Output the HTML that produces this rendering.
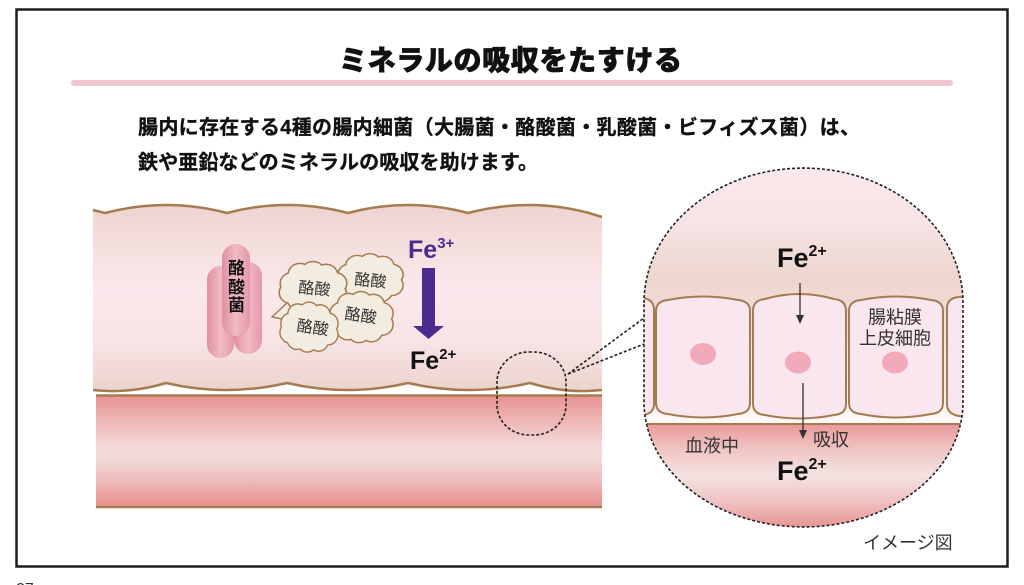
<!DOCTYPE html>
<html><head><meta charset="utf-8"><style>
html,body{margin:0;padding:0;background:#fff;}
svg{display:block;}
</style></head><body>
<svg width="1024" height="585" viewBox="0 0 1024 585" xmlns="http://www.w3.org/2000/svg">
<defs>
  <linearGradient id="ug" x1="0" y1="205" x2="0" y2="392" gradientUnits="userSpaceOnUse">
    <stop offset="0" stop-color="#eed3cf"/>
    <stop offset="0.15" stop-color="#f3dcda"/>
    <stop offset="0.45" stop-color="#fbe8ec"/>
    <stop offset="0.72" stop-color="#f8e4e6"/>
    <stop offset="1" stop-color="#ecd3cc"/>
  </linearGradient>
  <linearGradient id="lg" x1="0" y1="396" x2="0" y2="507" gradientUnits="userSpaceOnUse">
    <stop offset="0" stop-color="#e99391"/>
    <stop offset="0.2" stop-color="#eeb3b1"/>
    <stop offset="0.45" stop-color="#f2d9d8"/>
    <stop offset="0.55" stop-color="#f2dbda"/>
    <stop offset="0.75" stop-color="#efbdbd"/>
    <stop offset="1" stop-color="#e88e8d"/>
  </linearGradient>
  <linearGradient id="lumg" x1="0" y1="168" x2="0" y2="420" gradientUnits="userSpaceOnUse">
    <stop offset="0" stop-color="#fbe9ed"/>
    <stop offset="0.22" stop-color="#f8e3e6"/>
    <stop offset="0.45" stop-color="#ecd5cc"/>
    <stop offset="0.55" stop-color="#f0dcd5"/>
    <stop offset="1" stop-color="#fdf7f6"/>
  </linearGradient>
  <linearGradient id="bg2" x1="0" y1="424" x2="0" y2="527" gradientUnits="userSpaceOnUse">
    <stop offset="0" stop-color="#e99999"/>
    <stop offset="0.25" stop-color="#f0c6c4"/>
    <stop offset="0.5" stop-color="#f4e3e1"/>
    <stop offset="0.75" stop-color="#f0c3c3"/>
    <stop offset="1" stop-color="#e89494"/>
  </linearGradient>
  <linearGradient id="rodg" x1="0" y1="0" x2="1" y2="0">
    <stop offset="0" stop-color="#e08fa0"/>
    <stop offset="0.5" stop-color="#f0bac5"/>
    <stop offset="1" stop-color="#e498a9"/>
  </linearGradient>
  <clipPath id="bigclip"><path d="M644 303 A159.5 135 0 0 1 963 303 L963 402 A159.5 125 0 0 1 644 402 Z"/></clipPath>
  <g id="cs" fill="#f3ece1" stroke="#a57c52" stroke-width="3.2">
    <circle cx="-21" cy="-5" r="11"/><circle cx="-13" cy="-15" r="11"/><circle cx="0" cy="-17" r="11"/><circle cx="13" cy="-14" r="11"/><circle cx="22" cy="-5" r="11"/>
    <circle cx="22" cy="7" r="11"/><circle cx="11" cy="14" r="11"/><circle cx="-2" cy="15" r="11"/><circle cx="-14" cy="12" r="11"/><circle cx="-22" cy="5" r="11"/>
  </g>
  <g id="cf" fill="#f3ece1">
    <circle cx="-21" cy="-5" r="11"/><circle cx="-13" cy="-15" r="11"/><circle cx="0" cy="-17" r="11"/><circle cx="13" cy="-14" r="11"/><circle cx="22" cy="-5" r="11"/>
    <circle cx="22" cy="7" r="11"/><circle cx="11" cy="14" r="11"/><circle cx="-2" cy="15" r="11"/><circle cx="-14" cy="12" r="11"/><circle cx="-22" cy="5" r="11"/>
    <ellipse cx="0" cy="-1" rx="25" ry="17"/>
  </g>
</defs>

<!-- frame -->
<rect x="16.5" y="9.5" width="991" height="557" fill="none" stroke="#1e1e1e" stroke-width="2.5"/>
<line x1="74" y1="83" x2="950" y2="83" stroke="#f2c6ce" stroke-width="6" stroke-linecap="round"/>

<!-- title & text -->
<text x="339" y="70" textLength="343" font-family="'Liberation Sans','Noto Sans CJK JP',sans-serif" font-weight="900" font-size="28" fill="#111" stroke="#111" stroke-width="0.7">ミネラルの吸収をたすける</text>
<text x="138" y="134" textLength="722" font-family="'Liberation Sans','Noto Sans CJK JP',sans-serif" font-weight="bold" font-size="20" fill="#111" stroke="#111" stroke-width="0.35">腸内に存在する4種の腸内細菌（大腸菌・酪酸菌・乳酸菌・ビフィズス菌）は、</text>
<text x="138" y="169" textLength="400" font-family="'Liberation Sans','Noto Sans CJK JP',sans-serif" font-weight="bold" font-size="20" fill="#111" stroke="#111" stroke-width="0.35">鉄や亜鉛などのミネラルの吸収を助けます。</text>

<!-- intestine upper band -->
<path d="M93,210 L105,213 Q166,197 227,213 Q287,197 348,213 Q408,197 468,213 Q529,197 589,213 L602,217 L602,390 Q566,394 530,383 Q469,397 408,383 Q348,397 287,383 Q226,397 166,383 Q130,394 93,390 Z" fill="url(#ug)"/>
<path d="M93,210 L105,213 Q166,197 227,213 Q287,197 348,213 Q408,197 468,213 Q529,197 589,213 L602,217" fill="none" stroke="#a57c52" stroke-width="2.5"/>
<path d="M602,390 Q566,394 530,383 Q469,397 408,383 Q348,397 287,383 Q226,397 166,383 Q130,394 93,390" fill="none" stroke="#a57c52" stroke-width="2.5"/>
<!-- lower band -->
<rect x="96" y="396" width="506" height="111" fill="url(#lg)"/>
<line x1="96" y1="395.5" x2="602" y2="395.5" stroke="#a57c52" stroke-width="2.5"/>
<line x1="96" y1="507" x2="602" y2="507" stroke="#a57c52" stroke-width="2.5"/>

<!-- rods -->
<rect x="207" y="266" width="27" height="92" rx="13.5" fill="url(#rodg)"/>
<rect x="234" y="262" width="28" height="92" rx="14" fill="url(#rodg)"/>
<rect x="222" y="244" width="28" height="92" rx="14" fill="url(#rodg)"/>
<g font-family="'Liberation Sans','Noto Sans CJK JP',sans-serif" font-weight="bold" font-size="17" fill="#111" text-anchor="middle">
  <text x="236.5" y="274">酪</text>
  <text x="236.5" y="293">酸</text>
  <text x="236.5" y="311">菌</text>
</g>

<!-- clouds -->
<path d="M288,302 L272,317 L288,320" fill="#f3ece1" stroke="#a57c52" stroke-width="1.5"/>
<g transform="translate(370,279) scale(0.98,0.88)"><use href="#cs"/><use href="#cf"/></g>
<g transform="translate(313,288) scale(1,0.92)"><use href="#cs"/><use href="#cf"/></g>
<g transform="translate(361,318) scale(0.95,0.92)"><use href="#cs"/><use href="#cf"/></g>
<g transform="translate(309,328) scale(0.86,0.9)"><use href="#cs"/><use href="#cf"/></g>
<g font-family="'Liberation Sans','Noto Sans CJK JP',sans-serif" font-size="16" fill="#333" text-anchor="middle">
  <text transform="translate(314,294) rotate(5)">酪酸</text>
  <text transform="translate(370,286) rotate(5)">酪酸</text>
  <text transform="translate(360,321) rotate(8)">酪酸</text>
  <text transform="translate(312,333) rotate(8)">酪酸</text>
</g>

<!-- Fe3+ arrow -->
<text x="408" y="258" font-family="'Liberation Sans',sans-serif" font-weight="bold" font-size="25" fill="#4b2b8e">Fe<tspan font-size="15" dy="-10">3+</tspan></text>
<rect x="422" y="268" width="13" height="60" fill="#4b2b8e"/>
<polygon points="413,326 444,326 428.5,339" fill="#4b2b8e"/>
<text x="410" y="369" font-family="'Liberation Sans',sans-serif" font-weight="bold" font-size="25" fill="#111">Fe<tspan font-size="15" dy="-10">2+</tspan></text>

<!-- small dashed circle and connectors -->
<rect x="497" y="352" width="69" height="83" rx="32" ry="30" fill="none" stroke="#222" stroke-width="1.6" stroke-dasharray="3 2"/>
<line x1="568" y1="374" x2="644" y2="318" stroke="#222" stroke-width="1.6" stroke-dasharray="3 2"/>
<line x1="568" y1="374" x2="644" y2="344" stroke="#222" stroke-width="1.6" stroke-dasharray="3 2"/>

<!-- big circle -->
<g clip-path="url(#bigclip)">
  <rect x="640" y="165" width="330" height="260" fill="url(#lumg)"/>
  <rect x="640" y="424" width="330" height="110" fill="url(#bg2)"/>
  <line x1="640" y1="424" x2="970" y2="424" stroke="#a57c52" stroke-width="2"/>
  <g fill="#fae6ee" stroke="#a57c52" stroke-width="2">
    <path d="M600,296 L642,298 Q654,299 654,310 L654,404 Q654,414 642,415 L600,418 Z"/>
    <path d="M656,311 Q656,301 668,300 Q703,293 738,300 Q750,301 750,311 L750,403 Q750,413 738,414 Q703,421 668,414 Q656,413 656,403 Z"/>
    <path d="M753,311 Q753,300 765,299 Q799,289 834,299 Q846,300 846,311 L846,404 Q846,414 834,415 Q799,422 765,415 Q753,414 753,404 Z"/>
    <path d="M849,311 Q849,301 861,300 Q896,293 931,300 Q943,301 943,311 L943,403 Q943,413 931,414 Q896,421 861,414 Q849,413 849,403 Z"/>
    <path d="M947,308 Q947,298 959,297 L1000,294 L1000,420 L959,416 Q947,414 947,404 Z"/>
  </g>
  <g fill="#f2aabb">
    <ellipse cx="703" cy="354" rx="13" ry="11"/>
    <ellipse cx="798" cy="362.5" rx="13" ry="11"/>
    <ellipse cx="895" cy="362.5" rx="13" ry="11"/>
  </g>
</g>
<path d="M644 303 A159.5 135 0 0 1 963 303 L963 402 A159.5 125 0 0 1 644 402 Z" fill="none" stroke="#222" stroke-width="1.6" stroke-dasharray="3 2"/>

<!-- circle labels -->
<text x="777" y="267" font-family="'Liberation Sans',sans-serif" font-weight="bold" font-size="27" fill="#111">Fe<tspan font-size="16" dy="-11">2+</tspan></text>
<line x1="800" y1="283" x2="800" y2="318" stroke="#333" stroke-width="1.3"/>
<polygon points="796,315 804,315 800,324" fill="#333"/>
<line x1="803" y1="383" x2="803" y2="432" stroke="#333" stroke-width="1.3"/>
<polygon points="799,430 807,430 803,439" fill="#333"/>
<g font-family="'Liberation Sans','Noto Sans CJK JP',sans-serif" font-size="18" fill="#333">
  <text x="895" y="323.5" text-anchor="middle">腸粘膜</text>
  <text x="895" y="344.5" text-anchor="middle">上皮細胞</text>
  <text x="685" y="452">血液中</text>
  <text x="813" y="446">吸収</text>
  <text x="863" y="549">イメージ図</text>
</g>
<text x="777" y="480" font-family="'Liberation Sans',sans-serif" font-weight="bold" font-size="27" fill="#111">Fe<tspan font-size="16" dy="-11">2+</tspan></text>

<!-- page number -->
<text x="16" y="594" font-family="'Liberation Sans',sans-serif" font-size="16" fill="#333">27</text>
</svg>
</body></html>
